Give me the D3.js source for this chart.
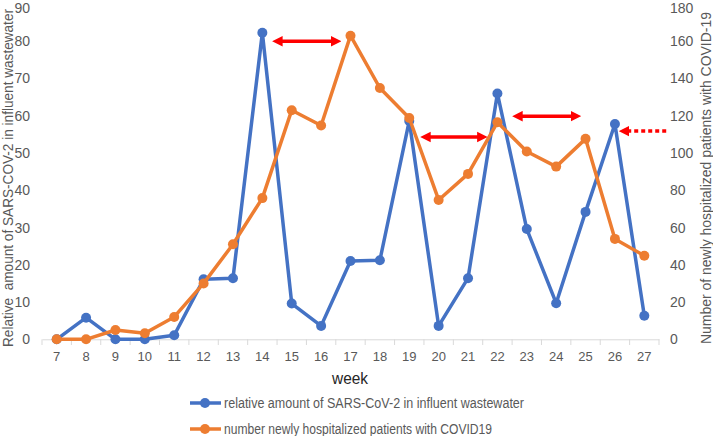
<!DOCTYPE html>
<html><head><meta charset="utf-8">
<script src="https://cdn.jsdelivr.net/npm/d3@7"></script>
<style>body{margin:0;background:#fff}svg{display:block}text{font-family:"Liberation Sans",Arial,sans-serif}</style>
</head><body><svg id="c" width="713" height="436"></svg>
<script>
const weeks = [7,8,9,10,11,12,13,14,15,16,17,18,19,20,21,22,23,24,25,26,27];
const wastewater = [0,5.8,0,0,1.1,16.1,16.4,82.3,9.6,3.6,21,21.2,58.6,3.6,16.4,66,29.6,9.7,34.2,57.8,6.3];
const hospitalized = [0,0,5,3.2,12,30,51,75.8,123,114.8,163,134.9,118.8,74.8,88.8,116.5,100.8,92.7,107.6,53.9,44.9];
const leftTicks = [0,10,20,30,40,50,60,70,80,90];
const rightTicks = [0,20,40,60,80,100,120,140,160,180];
const arrowsSolid = [{from:14.38,to:16.64,y:80},{from:19.42,to:21.62,y:54.3},{from:22.55,to:24.8,y:59.9}];
const arrowsDotted = [{from:26.18,to:27.78,y:55.9}];
const seriesNames = ["relative amount of SARS-CoV-2 in influent wastewater","number newly hospitalized patients with COVID19"];
const colors = ["#4472C4","#ED7D31"];

const svg = d3.select("#c");
const x = d3.scaleBand().domain(weeks).range([42,659]);
const xc = w => x(w) + x.bandwidth()/2;
const xl = d3.scaleLinear().domain([7,27]).range([xc(7), xc(27)]);
const yL = d3.scaleLinear().domain([0,90]).range([339.3,4]);
const yR = d3.scaleLinear().domain([0,180]).range([339.3,4]);
const grey = "#595959";

// x axis
const xa = svg.append("g").attr("transform","translate(0,339.3)")
  .call(d3.axisBottom(x).tickSizeInner(0).tickSizeOuter(0).tickPadding(12));
xa.select(".domain").attr("stroke","#d9d9d9").attr("stroke-width",1);
xa.selectAll("text").attr("fill",grey).attr("font-size",13);
svg.append("g").selectAll("line").data(d3.range(weeks.length+1)).join("line")
  .attr("x1",i=>42+i*x.step()).attr("x2",i=>42+i*x.step())
  .attr("y1",339.3).attr("y2",345).attr("stroke","#d9d9d9");

// left axis
const la = svg.append("g").attr("transform","translate(42,0)")
  .call(d3.axisLeft(yL).tickValues(leftTicks).tickSize(0).tickPadding(12));
la.select(".domain").remove();
la.selectAll("text").attr("fill",grey).attr("font-size",14)
  .attr("dy",d=>d===90?"0.62em":"0.32em");
// right axis
const ra = svg.append("g").attr("transform","translate(659,0)")
  .call(d3.axisRight(yR).tickValues(rightTicks).tickSize(0).tickPadding(11));
ra.select(".domain").remove();
ra.selectAll("text").attr("fill",grey).attr("font-size",14)
  .attr("dy",d=>d===180?"0.62em":"0.32em");

// axis titles
svg.append("text").attr("transform","translate(13,178) rotate(-90)").attr("text-anchor","middle")
  .attr("fill",grey).attr("font-size",14).attr("xml:space","preserve")
  .attr("textLength",338).attr("lengthAdjust","spacingAndGlyphs")
  .text("Relative  amount of SARS-COV-2 in influent wastewater");
svg.append("text").attr("transform","translate(711,178) rotate(-90)").attr("text-anchor","middle")
  .attr("fill",grey).attr("font-size",14)
  .attr("textLength",332).attr("lengthAdjust","spacingAndGlyphs")
  .text("Number of newly hospitalized patients with COVID-19");
svg.append("text").attr("x",350).attr("y",384).attr("text-anchor","middle")
  .attr("fill","#262626").attr("font-size",17)
  .attr("textLength",36).attr("lengthAdjust","spacingAndGlyphs").text("week");

// series
const series = [{vals:wastewater,y:yL},{vals:hospitalized,y:yR}];
series.forEach((s,i)=>{
  const pts = weeks.map((w,j)=>[xc(w), s.y(s.vals[j])]);
  svg.append("path").attr("d",d3.line()(pts)).attr("fill","none")
    .attr("stroke",colors[i]).attr("stroke-width",3.5).attr("stroke-linejoin","round");
  svg.append("g").selectAll("circle").data(pts).join("circle")
    .attr("cx",d=>d[0]).attr("cy",d=>d[1]).attr("r",5).attr("fill",colors[i]);
});

// arrows
const defs = svg.append("defs");
defs.append("marker").attr("id","ah").attr("viewBox","0 0 10 10").attr("refX",2).attr("refY",5)
  .attr("markerWidth",3).attr("markerHeight",3.2).attr("orient","auto-start-reverse")
  .attr("markerUnits","strokeWidth")
  .append("path").attr("d","M0,0L10,5L0,10z").attr("fill","#FF0000");
arrowsSolid.forEach(a=>{
  svg.append("line").attr("x1",xl(a.from)+7).attr("x2",xl(a.to)-7)
    .attr("y1",yL(a.y)).attr("y2",yL(a.y)).attr("stroke","#FF0000").attr("stroke-width",3.5)
    .attr("marker-start","url(#ah)").attr("marker-end","url(#ah)");
});
arrowsDotted.forEach(a=>{
  svg.append("line").attr("x1",xl(a.from)+7).attr("x2",xl(a.to))
    .attr("y1",yL(a.y)).attr("y2",yL(a.y)).attr("stroke","#FF0000").attr("stroke-width",3.5)
    .attr("stroke-dasharray","4,3").attr("marker-start","url(#ah)");
});

// legend
const lg = svg.append("g");
const legendW = [300, 268];
seriesNames.forEach((n,i)=>{
  const yy = 403 + i*26;
  lg.append("line").attr("x1",190).attr("x2",221).attr("y1",yy).attr("y2",yy)
    .attr("stroke",colors[i]).attr("stroke-width",3.5);
  lg.append("circle").attr("cx",205).attr("cy",yy).attr("r",5).attr("fill",colors[i]);
  lg.append("text").attr("x",224).attr("y",yy+5).attr("fill",grey).attr("font-size",14)
    .attr("textLength",legendW[i]).attr("lengthAdjust","spacingAndGlyphs").text(n);
});
</script></body></html>
